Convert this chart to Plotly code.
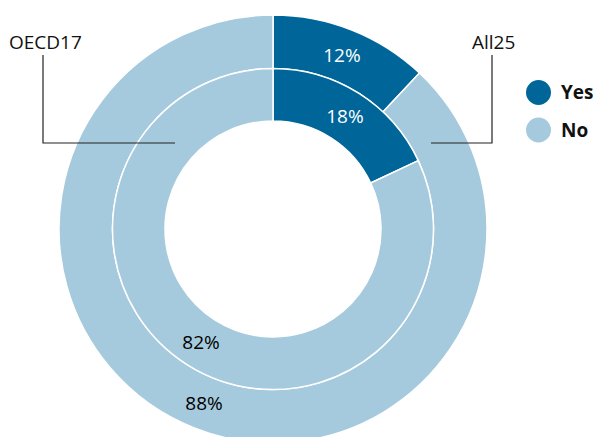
import plotly.graph_objects as go

# ---- data ----
categories = ["Yes", "No"]
all25_values = [12, 88]      # outer ring
oecd17_values = [18, 82]     # inner ring
series_names = ["All25", "OECD17"]
colors = ["#006699", "#a6cadd"]
text_colors = ["white", "black"]

W, H = 595, 445
def px(x):
    return x / W
def py(y):
    return (H - y) / H

cx, cy = 273, 229
r_out, r_mid, r_in = 214, 160.5, 108
FONT = "Open Sans"

fig = go.Figure()
fig.add_trace(go.Pie(
    labels=categories, values=all25_values, name=series_names[0],
    sort=False, direction="clockwise", rotation=0,
    hole=r_mid / r_out,
    domain=dict(x=[px(cx - r_out), px(cx + r_out)], y=[py(cy + r_out), py(cy - r_out)]),
    marker=dict(colors=colors, line=dict(color="white", width=1.5)),
    texttemplate="%{value}%", textposition="inside", insidetextorientation="horizontal",
    textfont=dict(color=text_colors, size=19, family=FONT),
    hoverinfo="label+value+name", showlegend=False,
))
fig.add_trace(go.Pie(
    labels=categories, values=oecd17_values, name=series_names[1],
    sort=False, direction="clockwise", rotation=0,
    hole=r_in / r_mid,
    domain=dict(x=[px(cx - r_mid), px(cx + r_mid)], y=[py(cy + r_mid), py(cy - r_mid)]),
    marker=dict(colors=colors, line=dict(color="white", width=1.5)),
    texttemplate="%{value}%", textposition="inside", insidetextorientation="horizontal",
    textfont=dict(color=text_colors, size=19, family=FONT),
    hoverinfo="label+value+name", showlegend=False,
))

shapes = [
    dict(type="path", xref="paper", yref="paper",
         path=f"M {px(43)},{py(55)} L {px(43)},{py(143)} L {px(175)},{py(143)}",
         line=dict(color="#222", width=1.2)),
    dict(type="path", xref="paper", yref="paper",
         path=f"M {px(492)},{py(55)} L {px(492)},{py(143)} L {px(431)},{py(143)}",
         line=dict(color="#222", width=1.2)),
]
for i, yy in enumerate([92.5, 130]):
    shapes.append(dict(type="circle", xref="paper", yref="paper",
                       x0=px(526), x1=px(551), y0=py(yy + 12.5), y1=py(yy - 12.5),
                       fillcolor=colors[i], line=dict(width=0)))

annotations = [
    dict(text=series_names[1], x=px(45), y=py(42), xref="paper", yref="paper",
         showarrow=False, xanchor="center", yanchor="middle",
         font=dict(size=19, family=FONT, color="#111")),
    dict(text=series_names[0], x=px(493), y=py(42), xref="paper", yref="paper",
         showarrow=False, xanchor="center", yanchor="middle",
         font=dict(size=19, family=FONT, color="#111")),
]
for i, yy in enumerate([92.5, 130]):
    annotations.append(dict(text=f"<b>{categories[i]}</b>", x=px(559), y=py(yy),
                            xref="paper", yref="paper", showarrow=False,
                            xanchor="left", yanchor="middle",
                            font=dict(size=19, family=FONT, color="#111")))

fig.update_layout(
    width=W, height=H, margin=dict(l=0, r=0, t=0, b=0),
    paper_bgcolor="white", plot_bgcolor="white",
    shapes=shapes, annotations=annotations, showlegend=False,
)

fig.write_html("out.html", config={"displayModeBar": False}, post_script=
    "document.body.style.margin='0';document.body.style.overflow='hidden';"
    "document.documentElement.style.overflow='hidden';")
